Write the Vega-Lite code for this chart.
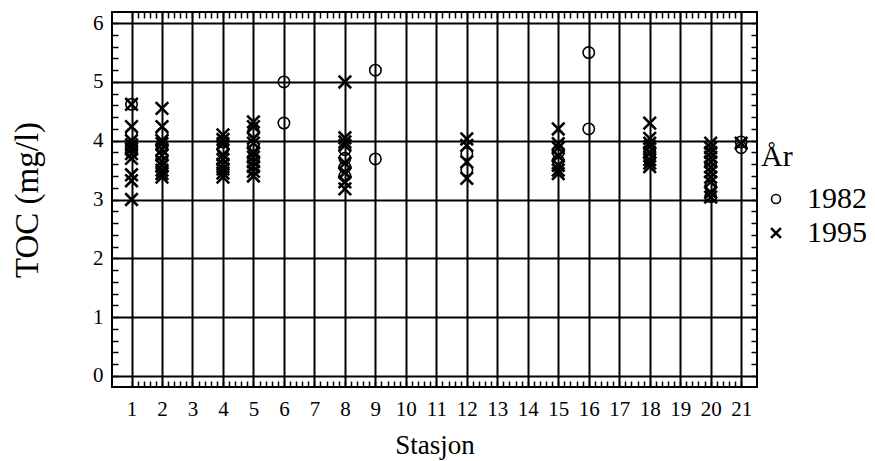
{
  "$schema": "https://vega.github.io/schema/vega-lite/v6.json",
  "width": 645,
  "height": 375,
  "autosize": {"type": "none"},
  "padding": {"left": 112, "top": 12, "right": 118, "bottom": 74},
  "background": "white",
  "config": {
    "font": "Liberation Serif",
    "view": {"stroke": "black", "strokeWidth": 2},
    "axis": {
      "domain": false,
      "tickColor": "black",
      "tickWidth": 1.5,
      "gridColor": "black",
      "gridWidth": 2,
      "labelColor": "black",
      "labelFont": "Liberation Serif",
      "labelFontSize": 21,
      "labelOverlap": false,
      "titleFont": "Liberation Serif",
      "titleFontWeight": "normal",
      "titleColor": "black",
      "titleFontSize": 27
    }
  },
  "datasets": {
    "pts": [
      {"st": 1, "aar": "1982", "toc": 4.62}, {"st": 1, "aar": "1982", "toc": 4.12}, {"st": 1, "aar": "1982", "toc": 3.92}, {"st": 1, "aar": "1982", "toc": 3.8},
      {"st": 1, "aar": "1995", "toc": 4.62}, {"st": 1, "aar": "1995", "toc": 4.24}, {"st": 1, "aar": "1995", "toc": 4.0}, {"st": 1, "aar": "1995", "toc": 3.93}, {"st": 1, "aar": "1995", "toc": 3.86}, {"st": 1, "aar": "1995", "toc": 3.78}, {"st": 1, "aar": "1995", "toc": 3.7}, {"st": 1, "aar": "1995", "toc": 3.42}, {"st": 1, "aar": "1995", "toc": 3.32}, {"st": 1, "aar": "1995", "toc": 3.0},
      {"st": 2, "aar": "1982", "toc": 4.12}, {"st": 2, "aar": "1982", "toc": 3.92}, {"st": 2, "aar": "1982", "toc": 3.7},
      {"st": 2, "aar": "1995", "toc": 4.55}, {"st": 2, "aar": "1995", "toc": 4.24}, {"st": 2, "aar": "1995", "toc": 4.0}, {"st": 2, "aar": "1995", "toc": 3.95}, {"st": 2, "aar": "1995", "toc": 3.85}, {"st": 2, "aar": "1995", "toc": 3.75}, {"st": 2, "aar": "1995", "toc": 3.65}, {"st": 2, "aar": "1995", "toc": 3.58}, {"st": 2, "aar": "1995", "toc": 3.5}, {"st": 2, "aar": "1995", "toc": 3.44}, {"st": 2, "aar": "1995", "toc": 3.38},
      {"st": 4, "aar": "1982", "toc": 3.98}, {"st": 4, "aar": "1982", "toc": 3.86},
      {"st": 4, "aar": "1995", "toc": 4.1}, {"st": 4, "aar": "1995", "toc": 4.02}, {"st": 4, "aar": "1995", "toc": 3.95}, {"st": 4, "aar": "1995", "toc": 3.76}, {"st": 4, "aar": "1995", "toc": 3.68}, {"st": 4, "aar": "1995", "toc": 3.6}, {"st": 4, "aar": "1995", "toc": 3.52}, {"st": 4, "aar": "1995", "toc": 3.45}, {"st": 4, "aar": "1995", "toc": 3.38},
      {"st": 5, "aar": "1982", "toc": 4.15}, {"st": 5, "aar": "1982", "toc": 3.9}, {"st": 5, "aar": "1982", "toc": 3.7},
      {"st": 5, "aar": "1995", "toc": 4.32}, {"st": 5, "aar": "1995", "toc": 4.24}, {"st": 5, "aar": "1995", "toc": 4.04}, {"st": 5, "aar": "1995", "toc": 3.96}, {"st": 5, "aar": "1995", "toc": 3.8}, {"st": 5, "aar": "1995", "toc": 3.72}, {"st": 5, "aar": "1995", "toc": 3.64}, {"st": 5, "aar": "1995", "toc": 3.56}, {"st": 5, "aar": "1995", "toc": 3.48}, {"st": 5, "aar": "1995", "toc": 3.4},
      {"st": 6, "aar": "1982", "toc": 5.0}, {"st": 6, "aar": "1982", "toc": 4.3},
      {"st": 8, "aar": "1982", "toc": 3.85}, {"st": 8, "aar": "1982", "toc": 3.7}, {"st": 8, "aar": "1982", "toc": 3.55}, {"st": 8, "aar": "1982", "toc": 3.4},
      {"st": 8, "aar": "1995", "toc": 5.0}, {"st": 8, "aar": "1995", "toc": 4.05}, {"st": 8, "aar": "1995", "toc": 3.98}, {"st": 8, "aar": "1995", "toc": 3.92}, {"st": 8, "aar": "1995", "toc": 3.62}, {"st": 8, "aar": "1995", "toc": 3.46}, {"st": 8, "aar": "1995", "toc": 3.3}, {"st": 8, "aar": "1995", "toc": 3.18},
      {"st": 9, "aar": "1982", "toc": 5.2}, {"st": 9, "aar": "1982", "toc": 3.69},
      {"st": 12, "aar": "1982", "toc": 3.78}, {"st": 12, "aar": "1982", "toc": 3.5},
      {"st": 12, "aar": "1995", "toc": 4.03}, {"st": 12, "aar": "1995", "toc": 3.92}, {"st": 12, "aar": "1995", "toc": 3.64}, {"st": 12, "aar": "1995", "toc": 3.36},
      {"st": 15, "aar": "1982", "toc": 3.8}, {"st": 15, "aar": "1982", "toc": 3.66},
      {"st": 15, "aar": "1995", "toc": 4.2}, {"st": 15, "aar": "1995", "toc": 3.95}, {"st": 15, "aar": "1995", "toc": 3.88}, {"st": 15, "aar": "1995", "toc": 3.74}, {"st": 15, "aar": "1995", "toc": 3.58}, {"st": 15, "aar": "1995", "toc": 3.5}, {"st": 15, "aar": "1995", "toc": 3.44},
      {"st": 16, "aar": "1982", "toc": 5.5}, {"st": 16, "aar": "1982", "toc": 4.2},
      {"st": 18, "aar": "1982", "toc": 3.85}, {"st": 18, "aar": "1982", "toc": 3.72},
      {"st": 18, "aar": "1995", "toc": 4.3}, {"st": 18, "aar": "1995", "toc": 4.04}, {"st": 18, "aar": "1995", "toc": 3.96}, {"st": 18, "aar": "1995", "toc": 3.9}, {"st": 18, "aar": "1995", "toc": 3.8}, {"st": 18, "aar": "1995", "toc": 3.68}, {"st": 18, "aar": "1995", "toc": 3.62}, {"st": 18, "aar": "1995", "toc": 3.56},
      {"st": 20, "aar": "1982", "toc": 3.6}, {"st": 20, "aar": "1982", "toc": 3.22}, {"st": 20, "aar": "1982", "toc": 3.05},
      {"st": 20, "aar": "1995", "toc": 3.96}, {"st": 20, "aar": "1995", "toc": 3.88}, {"st": 20, "aar": "1995", "toc": 3.8}, {"st": 20, "aar": "1995", "toc": 3.72}, {"st": 20, "aar": "1995", "toc": 3.64}, {"st": 20, "aar": "1995", "toc": 3.55}, {"st": 20, "aar": "1995", "toc": 3.47}, {"st": 20, "aar": "1995", "toc": 3.38}, {"st": 20, "aar": "1995", "toc": 3.3}, {"st": 20, "aar": "1995", "toc": 3.12}, {"st": 20, "aar": "1995", "toc": 3.04},
      {"st": 21, "aar": "1982", "toc": 3.98}, {"st": 21, "aar": "1982", "toc": 3.88},
      {"st": 21, "aar": "1995", "toc": 3.96}
    ]
  },
  "data": {"name": "pts"},
  "layer": [
    {
      "mark": {"type": "point", "opacity": 0},
      "encoding": {
        "x": {
          "field": "st", "type": "quantitative",
          "scale": {"domain": [0.36, 21.52], "nice": false, "zero": false},
          "axis": {
            "orient": "bottom",
            "title": "Stasjon",
            "titlePadding": 13,
            "values": [1,1.2,1.4,1.6,1.8,2,2.2,2.4,2.6,2.8,3,3.2,3.4,3.6,3.8,4,4.2,4.4,4.6,4.8,5,5.2,5.4,5.6,5.8,6,6.2,6.4,6.6,6.8,7,7.2,7.4,7.6,7.8,8,8.2,8.4,8.6,8.8,9,9.2,9.4,9.6,9.8,10,10.2,10.4,10.6,10.8,11,11.2,11.4,11.6,11.8,12,12.2,12.4,12.6,12.8,13,13.2,13.4,13.6,13.8,14,14.2,14.4,14.6,14.8,15,15.2,15.4,15.6,15.8,16,16.2,16.4,16.6,16.8,17,17.2,17.4,17.6,17.8,18,18.2,18.4,18.6,18.8,19,19.2,19.4,19.6,19.8,20,20.2,20.4,20.6,20.8,21],
            "labelExpr": "abs(datum.value - round(datum.value)) < 0.01 ? '' + round(datum.value) : ''",
            "labelPadding": 17,
            "tickSize": -6,
            "grid": true,
            "gridOpacity": {"condition": {"test": "abs(datum.value - round(datum.value)) < 0.01", "value": 1}, "value": 0}
          }
        },
        "y": {
          "field": "toc", "type": "quantitative",
          "scale": {"domain": [-0.19, 6.19], "nice": false, "zero": false},
          "axis": {
            "orient": "left",
            "title": "TOC (mg/l)",
            "titleFontSize": 33,
            "titlePadding": 48,
            "values": [0,0.2,0.4,0.6,0.8,1,1.2,1.4,1.6,1.8,2,2.2,2.4,2.6,2.8,3,3.2,3.4,3.6,3.8,4,4.2,4.4,4.6,4.8,5,5.2,5.4,5.6,5.8,6],
            "labelExpr": "abs(datum.value - round(datum.value)) < 0.01 ? '' + round(datum.value) : ''",
            "labelPadding": 15,
            "tickSize": -6,
            "grid": true,
            "gridOpacity": {"condition": {"test": "abs(datum.value - round(datum.value)) < 0.01", "value": 1}, "value": 0}
          }
        }
      }
    },
    {
      "mark": {"type": "point", "filled": false, "color": "black", "opacity": 1, "size": 130},
      "encoding": {
        "x": {
          "field": "st", "type": "quantitative",
          "axis": {
            "orient": "top",
            "title": null,
            "labels": false,
            "grid": false,
            "tickSize": -6,
            "values": [1,1.2,1.4,1.6,1.8,2,2.2,2.4,2.6,2.8,3,3.2,3.4,3.6,3.8,4,4.2,4.4,4.6,4.8,5,5.2,5.4,5.6,5.8,6,6.2,6.4,6.6,6.8,7,7.2,7.4,7.6,7.8,8,8.2,8.4,8.6,8.8,9,9.2,9.4,9.6,9.8,10,10.2,10.4,10.6,10.8,11,11.2,11.4,11.6,11.8,12,12.2,12.4,12.6,12.8,13,13.2,13.4,13.6,13.8,14,14.2,14.4,14.6,14.8,15,15.2,15.4,15.6,15.8,16,16.2,16.4,16.6,16.8,17,17.2,17.4,17.6,17.8,18,18.2,18.4,18.6,18.8,19,19.2,19.4,19.6,19.8,20,20.2,20.4,20.6,20.8,21]
          }
        },
        "y": {
          "field": "toc", "type": "quantitative",
          "axis": {
            "orient": "right",
            "title": null,
            "labels": false,
            "grid": false,
            "tickSize": -6,
            "values": [0,0.2,0.4,0.6,0.8,1,1.2,1.4,1.6,1.8,2,2.2,2.4,2.6,2.8,3,3.2,3.4,3.6,3.8,4,4.2,4.4,4.6,4.8,5,5.2,5.4,5.6,5.8,6]
          }
        },
        "strokeWidth": {
          "field": "aar", "type": "nominal",
          "scale": {"domain": ["1982", "1995"], "range": [1.6, 2.6]},
          "legend": null
        },
        "shape": {
          "field": "aar", "type": "nominal",
          "scale": {"domain": ["1982", "1995"], "range": ["circle", "M-1.1,-1.1L1.1,1.1M-1.1,1.1L1.1,-1.1"]},
          "legend": {
            "title": "År",
            "orient": "none",
            "legendX": 649,
            "legendY": 130,
            "titleFont": "Liberation Serif",
            "titleFontSize": 30,
            "titleFontWeight": "normal",
            "titleColor": "black",
            "labelFont": "Liberation Serif",
            "labelFontSize": 30,
            "labelColor": "black",
            "labelOffset": 16,
            "symbolSize": 80,
            "symbolStrokeWidth": 2,
            "symbolStrokeColor": "black",
            "rowPadding": 4,
            "titlePadding": 12
          }
        }
      }
    }
  ],
  "resolve": {"axis": {"x": "independent", "y": "independent"}}
}
